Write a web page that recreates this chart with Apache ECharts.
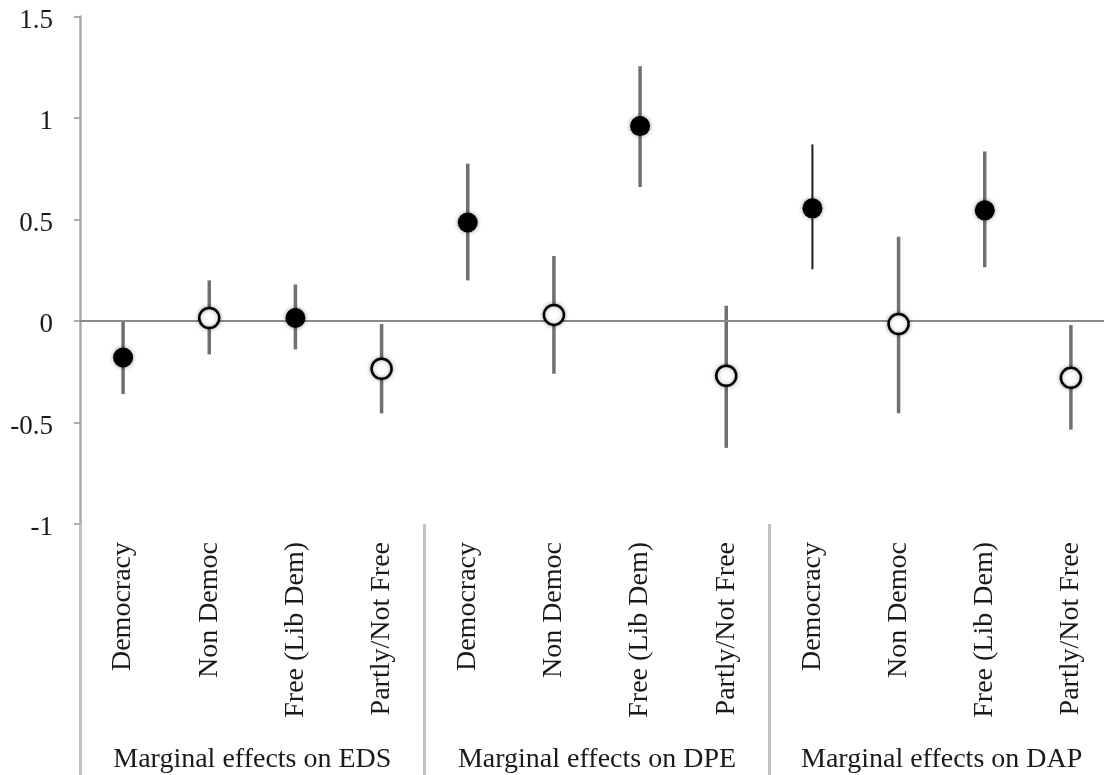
<!DOCTYPE html>
<html><head><meta charset="utf-8">
<script src="https://cdn.jsdelivr.net/npm/echarts@6/dist/echarts.min.js"></script>
<style>html,body{margin:0;padding:0;background:#fff;overflow:hidden}#c{width:1104px;height:775px}</style>
</head><body><div id="c"></div><script>
const categories = ['Democracy','Non Democ','Free (Lib Dem)','Partly/Not Free',
                    'Democracy','Non Democ','Free (Lib Dem)','Partly/Not Free',
                    'Democracy','Non Democ','Free (Lib Dem)','Partly/Not Free'];
const groups = ['Marginal effects on EDS','Marginal effects on DPE','Marginal effects on DAP'];
const estimates = [-0.18, 0.015, 0.015, -0.235, 0.485, 0.03, 0.96, -0.27, 0.555, -0.015, 0.545, -0.28];
const lower     = [-0.36, -0.165, -0.14, -0.455, 0.20, -0.26, 0.66, -0.625, 0.255, -0.455, 0.265, -0.535];
const upper     = [0.0, 0.20, 0.18, -0.015, 0.775, 0.32, 1.255, 0.075, 0.87, 0.415, 0.835, -0.02];
const filled    = [true, false, true, false, true, false, true, false, true, false, true, false];
const darkBar   = [false,false,false,false,false,false,false,false,true,false,false,false];

const FONT = 'Liberation Serif';
const chart = echarts.init(document.getElementById('c'));

const errData = categories.map((c, i) => [i, lower[i], upper[i], darkBar[i] ? 1 : 0]);
const ptData = categories.map((c, i) => ({
  value: [i, estimates[i]],
  itemStyle: filled[i]
    ? {color: '#000', borderColor: '#000', borderWidth: 0, opacity: 1, shadowBlur: 4, shadowColor: 'rgba(0,0,0,0.45)'}
    : {color: '#fff', borderColor: '#000', borderWidth: 2.5, opacity: 1, shadowBlur: 4, shadowColor: 'rgba(0,0,0,0.35)'}
}));

chart.setOption({
  animation: false,
  backgroundColor: '#fff',
  grid: {left: 80, top: 16.5, width: 1034, height: 507.5, containLabel: false, outerBoundsMode: 'none'},
  xAxis: [{
    type: 'category', data: categories, boundaryGap: true,
    axisLine: {show: false, onZero: false},
    axisTick: {show: true, length: 260, interval: (i) => i % 4 === 0,
               lineStyle: {color: '#c2c2c2', width: 3}},
    axisLabel: {rotate: 90, margin: 18, interval: 0, fontFamily: FONT, fontSize: 28, color: '#1a1a1a'},
    splitLine: {show: false}
  }, {
    type: 'category', data: groups, position: 'bottom', boundaryGap: true,
    axisLine: {show: false, onZero: false}, axisTick: {show: false},
    axisLabel: {margin: 222, interval: 0, fontFamily: FONT, fontSize: 28, color: '#1a1a1a'},
    splitLine: {show: false}
  }],
  yAxis: {
    type: 'value', min: -1, max: 1.5, interval: 0.5,
    axisLine: {show: true, lineStyle: {color: '#ababab', width: 2.5}},
    axisTick: {show: true, length: 6, lineStyle: {color: '#ababab', width: 2}},
    axisLabel: {margin: 27, fontFamily: FONT, fontSize: 27, color: '#1a1a1a', verticalAlign: 'top', lineHeight: 8},
    splitLine: {show: false}
  },
  series: [{
    type: 'custom', xAxisIndex: 0, yAxisIndex: 0, z: 2,
    data: errData,
    renderItem: (params, api) => {
      const lo = api.coord([api.value(0), api.value(1)]);
      const hi = api.coord([api.value(0), api.value(2)]);
      const dark = api.value(3) === 1;
      return {type: 'line', shape: {x1: lo[0], y1: lo[1], x2: hi[0], y2: hi[1]},
              style: {stroke: dark ? '#1e1e1e' : '#707070', lineWidth: dark ? 2 : 3.5}};
    },
    markLine: {
      silent: true, symbol: 'none', label: {show: false},
      lineStyle: {color: '#8a8a8a', width: 2, type: 'solid'},
      data: [{yAxis: 0}]
    }
  }, {
    type: 'scatter', xAxisIndex: 0, yAxisIndex: 0, z: 5,
    symbol: 'circle', symbolSize: 20,
    data: ptData
  }]
});
</script></body></html>
